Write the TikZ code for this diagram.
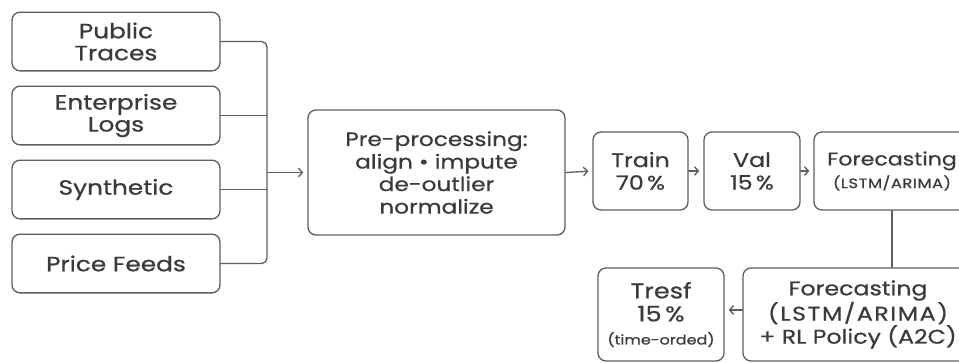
\documentclass[tikz,border=0pt]{standalone}
\usepackage{fontspec}
\setmainfont{Poppins}[FakeStretch=1.2, FakeBold=0.7]
\usetikzlibrary{arrows.meta}
\definecolor{linegray}{HTML}{5E5E5E}
\definecolor{txtgray}{HTML}{3A3A3A}
\tikzset{
  box/.style={draw=linegray, line width=1pt, rounded corners=6pt, align=center,
    text=txtgray, inner sep=2pt},
  srcbox/.style={box, minimum width=156pt, minimum height=44pt,
    font=\fontsize{15.5}{16.5}\selectfont},
  splitbox/.style={box, minimum height=58.5pt, font=\fontsize{14.8}{17}\selectfont},
  link/.style={draw=linegray, line width=1pt},
  flow/.style={link, ->, shorten >=3pt}
}
\begin{document}
\begin{tikzpicture}[x=0.75pt, y=-0.75pt, >={Straight Barb[length=3pt,width=6.5pt]},
    line join=round, line cap=round]
  \useasboundingbox (0,0) rectangle (959,362);
  \clip (0,0) rectangle (959,362);
  % sources
  \node[srcbox] (pub) at (116,41.5) {Public\\Traces};
  \node[srcbox] (ent) at (116,115.5) {Enterprise\\Logs};
  \node[srcbox] (syn) at (116,189.5) {Synthetic};
  \node[srcbox] (price) at (116,263.5) {Price Feeds};
  \path (267,41.5) coordinate (bt)
        (267,263.5) coordinate (bb)
        (267,172.5) coordinate (bm);
  \node[box, minimum width=192.75pt, minimum height=93.75pt,
    font=\fontsize{14.5}{16.9}\selectfont] (prep) at (436.5,172.5)
    {Pre-processing:\\align • impute\\de-outlier\\normalize};
  % splits
  \node[splitbox, minimum width=71.25pt] (train) at (640.5,171) {Train\\70\,\%};
  \node[splitbox, minimum width=72pt] (val) at (752,171) {Val\\15\,\%};
  \node[splitbox, minimum width=117pt, font=\fontsize{13.8}{17}\selectfont] (fcst) at (892,171)
    {Forecasting\\{\fontsize{10.2}{12}\selectfont\addfontfeature{LetterSpace=4}(LSTM/ARIMA)}};
  \node[box, minimum width=94.5pt, minimum height=69.75pt,
    font=\fontsize{16}{17.3}\selectfont] (test) at (661,314.5)
    {Tresf\\15\,\%\\{\fontsize{10}{12}\selectfont(time-orded)}};
  \node[box, minimum width=172.5pt, minimum height=69.75pt,
    font=\fontsize{14.8}{17.3}\selectfont] (fcrl) at (858,314.5)
    {Forecasting\\{\addfontfeature{LetterSpace=8}(LSTM/ARIMA)}\\+ RL Policy (A2C)};
  % connectors
  \draw[link, rounded corners=4pt] (pub.east) -- (bt) -- (bb) -- (price.east);
  \draw[link] (ent.east) -- (ent.east -| bt);
  \draw[link] (syn.east) -- (syn.east -| bt);
  \draw[flow] (bm) -- (prep.west);
  \draw[flow] (prep.east) -- (train.west);
  \draw[flow] (train.east) -- (val.west);
  \draw[flow] (val.east) -- (fcst.west);
  \draw[link] (fcst.south) -- (fcst.south |- fcrl.north);
  \draw[flow] (fcrl.west |- 0,310) -- (test.east |- 0,310);
\end{tikzpicture}
\end{document}
